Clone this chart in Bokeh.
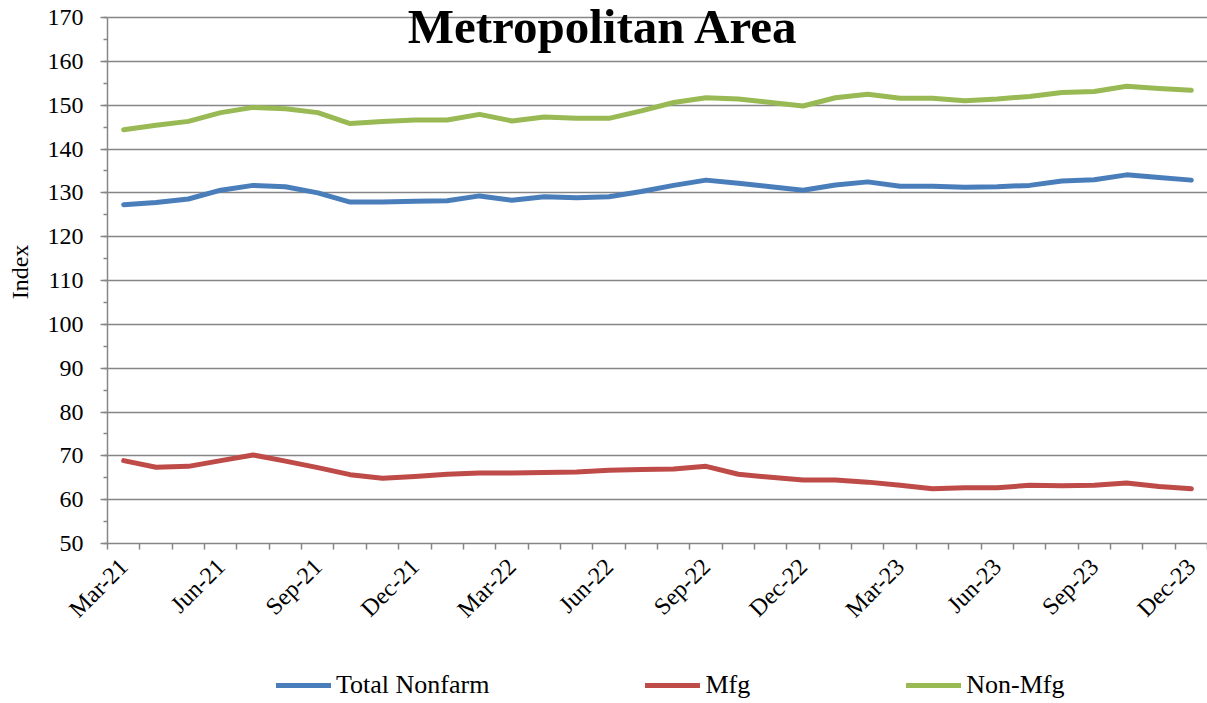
import math
import numpy as np
from bokeh.plotting import figure
from bokeh.layouts import column
from bokeh.models import FixedTicker, Label, Legend, LegendItem, ColumnDataSource, Range1d
from bokeh.embed import file_html
from bokeh.resources import INLINE

months = ["Mar-21", "Apr-21", "May-21", "Jun-21", "Jul-21", "Aug-21", "Sep-21", "Oct-21",
          "Nov-21", "Dec-21", "Jan-22", "Feb-22", "Mar-22", "Apr-22", "May-22", "Jun-22",
          "Jul-22", "Aug-22", "Sep-22", "Oct-22", "Nov-22", "Dec-22", "Jan-23", "Feb-23",
          "Mar-23", "Apr-23", "May-23", "Jun-23", "Jul-23", "Aug-23", "Sep-23", "Oct-23",
          "Nov-23", "Dec-23"]

total_nonfarm = [127.3, 127.8, 128.6, 130.6, 131.7, 131.4, 130.0, 127.9, 127.9, 128.1,
                 128.2, 129.3, 128.3, 129.1, 128.9, 129.1, 130.3, 131.7, 132.9, 132.2,
                 131.4, 130.6, 131.8, 132.5, 131.5, 131.5, 131.3, 131.4, 131.7, 132.7,
                 133.0, 134.1, 133.5, 132.9]

mfg = [68.9, 67.4, 67.6, 68.9, 70.2, 68.8, 67.3, 65.7, 64.9, 65.3,
       65.8, 66.1, 66.1, 66.2, 66.3, 66.7, 66.9, 67.0, 67.6, 65.8,
       65.1, 64.5, 64.5, 64.0, 63.3, 62.5, 62.7, 62.7, 63.3, 63.2,
       63.3, 63.8, 63.0, 62.5]

non_mfg = [144.4, 145.4, 146.3, 148.3, 149.5, 149.2, 148.3, 145.8, 146.3, 146.6,
           146.6, 147.9, 146.4, 147.3, 147.0, 147.0, 148.7, 150.6, 151.7, 151.4,
           150.6, 149.8, 151.7, 152.5, 151.6, 151.6, 151.0, 151.4, 152.0, 152.9,
           153.1, 154.3, 153.8, 153.4]

series_names = ["Total Nonfarm", "Mfg", "Non-Mfg"]
series_colors = ["#4A7EBB", "#BE4B48", "#98B954"]
y_ticks = [50, 60, 70, 80, 90, 100, 110, 120, 130, 140, 150, 160, 170]
y_min, y_max = 50, 170
title_text = "Metropolitan Area"
y_label = "Index"

FONT = "Liberation Serif"
GRID = "#868686"
LINE_W = 5

# layout (pixels): axis area from y=17 (170) to y=543 (50); the frame is extended
# 17px above 170 so the overlaid title is not clipped
AXIS_TOP_PX, AXIS_BOTTOM_PX = 17, 543
px_per_unit = (AXIS_BOTTOM_PX - AXIS_TOP_PX) / (y_max - y_min)
y_range_end = y_max + AXIS_TOP_PX / px_per_unit

x_idx = list(range(len(months)))
source = ColumnDataSource(dict(x=x_idx, months=months, total=total_nonfarm,
                               mfg=mfg, nonmfg=non_mfg))

p = figure(width=1207, height=650, x_range=(-0.5, len(months) - 0.5),
           y_range=Range1d(y_min, y_range_end),
           output_backend="svg", toolbar_location=None,
           min_border_left=107, min_border_right=0, min_border_top=0,
           min_border_bottom=650 - AXIS_BOTTOM_PX)
p.outline_line_color = None
p.background_fill_color = "white"
p.border_fill_color = "white"

for col, color in zip(["total", "mfg", "nonmfg"], series_colors):
    p.line("x", col, source=source, line_color=color, line_width=LINE_W,
           line_cap="round", line_join="round")

# x axis: labels every 3 months at category centres, ticks between categories
p.xaxis.ticker = FixedTicker(ticks=list(range(0, len(months), 3)),
                             minor_ticks=[k - 0.5 for k in range(len(months) + 1)])
p.xaxis.major_label_overrides = {i: months[i] for i in range(0, len(months), 3)}
p.xaxis.major_tick_line_color = None
p.xaxis.major_tick_out = 0
p.xaxis.major_tick_in = 0
p.xaxis.minor_tick_out = 6
p.xaxis.minor_tick_in = 0
p.xaxis.minor_tick_line_color = GRID
p.xaxis.minor_tick_line_width = 1.5
p.xaxis.axis_line_color = GRID
p.xaxis.axis_line_width = 1.5
p.xaxis.major_label_orientation = math.pi / 4
p.xaxis.major_label_standoff = 13
p.xaxis.major_label_text_font = FONT
p.xaxis.major_label_text_font_size = "24px"
p.xaxis.major_label_text_color = "black"
p.xgrid.visible = False

# y axis
p.yaxis.bounds = (y_min, y_max)
p.yaxis.ticker = FixedTicker(ticks=y_ticks, minor_ticks=list(range(y_min, y_max + 1, 5)))
p.yaxis.major_tick_out = 7
p.yaxis.major_tick_in = 0
p.yaxis.minor_tick_out = 4
p.yaxis.minor_tick_in = 0
p.yaxis.major_tick_line_color = GRID
p.yaxis.minor_tick_line_color = GRID
p.yaxis.major_tick_line_width = 1.5
p.yaxis.minor_tick_line_width = 1.5
p.yaxis.axis_line_color = GRID
p.yaxis.axis_line_width = 1.5
p.yaxis.major_label_standoff = 17
p.yaxis.major_label_text_font = FONT
p.yaxis.major_label_text_font_size = "24px"
p.yaxis.major_label_text_color = "black"
p.yaxis.axis_label = y_label
p.yaxis.axis_label_text_font = FONT
p.yaxis.axis_label_text_font_size = "24px"
p.yaxis.axis_label_text_font_style = "normal"
p.yaxis.axis_label_text_color = "black"
p.yaxis.axis_label_standoff = 12
p.ygrid.ticker = FixedTicker(ticks=y_ticks)
p.ygrid.grid_line_color = GRID
p.ygrid.grid_line_width = 1.5

# title overlaid on the top of the plot area
title = Label(x=496, y=517, x_units="screen", y_units="screen", text=title_text,
              text_font=FONT, text_font_size="49px", text_font_style="bold",
              text_align="center", text_baseline="alphabetic", text_color="black")
p.add_layout(title)

# legend strip below the chart (legend keys only; no data drawn here)
leg = figure(width=1207, height=53, x_range=(0, 1), y_range=(0, 1),
             output_backend="svg", toolbar_location=None,
             x_axis_type=None, y_axis_type=None, min_border=0)
leg.outline_line_color = None
leg.grid.visible = False
leg_renderers = [leg.line(x=np.array([0.0]), y=np.array([np.nan]), line_color=c,
                          line_width=LINE_W, line_cap="round")
                 for c in series_colors]
legend = Legend(items=[LegendItem(label=n, renderers=[r])
                       for n, r in zip(series_names, leg_renderers)],
                orientation="horizontal", location=(169, 3),
                glyph_width=55, glyph_height=20, label_height=20, label_standoff=5,
                spacing=156, padding=0, margin=0,
                label_text_font=FONT, label_text_font_size="26px", label_text_color="black",
                background_fill_alpha=0, border_line_color=None)
leg.add_layout(legend, "center")

layout = column(p, leg, spacing=0)
open("out.html", "w").write(file_html(layout, INLINE))
